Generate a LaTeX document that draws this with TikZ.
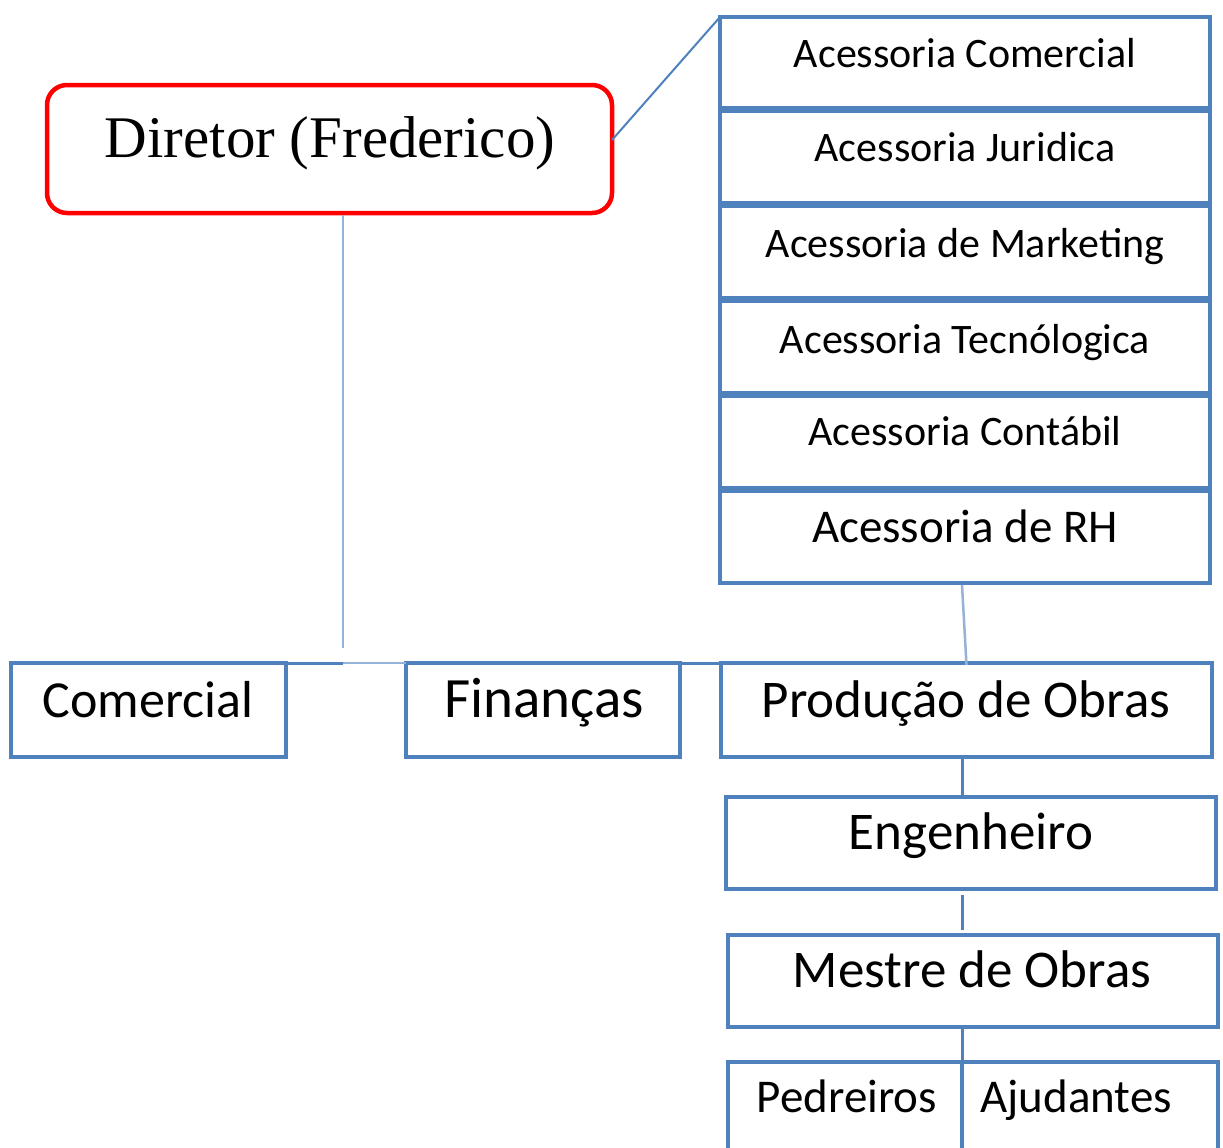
\documentclass[tikz,border=0pt]{standalone}
\usepackage{fontspec}
\setmainfont{Liberation Serif}
\newfontfamily\carl{Carlito}
\definecolor{obox}{HTML}{4F81BD}
\definecolor{olight}{HTML}{95B3D7}
\definecolor{ored}{HTML}{FF0000}
\begin{document}
\begin{tikzpicture}[x=1pt,y=-1pt,
  bbox/.style={draw=obox, line width=4pt, rectangle, inner sep=0pt, outer sep=0pt, fill=white},
  dirbox/.style={draw=ored, line width=4.5pt, rectangle, rounded corners=20pt, inner sep=0pt, outer sep=0pt},
  sm/.style={font=\carl\fontsize{42}{50}\selectfont, anchor=base, inner sep=0pt},
  md/.style={font=\carl\fontsize{47}{56}\selectfont, anchor=base, inner sep=0pt},
  lg/.style={font=\carl\fontsize{53}{63}\selectfont, anchor=base, inner sep=0pt},
  conn/.style={draw=obox, line width=3pt},
  connthin/.style={draw=obox, line width=2pt},
  connlight/.style={draw=olight, line width=2.5pt}]
\useasboundingbox (0,0) rectangle (1223,1148);
\clip (0,0) rectangle (1223,1148);
\fill[white] (0,0) rectangle (1223,1148);

% Diretor
\node[dirbox, minimum width=565pt, minimum height=128pt] (dir) at (329.5,149) {};
\node[font=\fontsize{59}{69}\selectfont, anchor=base, inner sep=0pt] (dirt) at (330,157) {Diretor (Frederico)};

% Acessorias
\node[bbox, minimum width=490pt, minimum height=91pt] (a1) at (965,62.5) {};
\node[bbox, minimum width=490pt, minimum height=92pt] (a2) at (965,157) {};
\node[bbox, minimum width=490pt, minimum height=92pt] (a3) at (965,252) {};
\node[bbox, minimum width=490pt, minimum height=92pt] (a4) at (965,347) {};
\node[bbox, minimum width=490pt, minimum height=92pt] (a5) at (965,442) {};
\node[bbox, minimum width=490pt, minimum height=92pt] (a6) at (965,537) {};
\node[sm] (a1t) at (965,67) {Acessoria Comercial};
\node[sm] (a2t) at (965,161) {Acessoria Juridica};
\node[sm] (a3t) at (965,257) {Acessoria de Marketing};
\node[sm] (a4t) at (965,353) {Acessoria Tecnólogica};
\node[sm] (a5t) at (965,445) {Acessoria Contábil};
\node[md] (a6t) at (965,542) {Acessoria de RH};

% Lower row
\node[bbox, minimum width=275pt, minimum height=94pt] (com) at (148.5,710) {};
\node[bbox, minimum width=274pt, minimum height=94pt] (fin) at (543,710) {};
\node[bbox, minimum width=491pt, minimum height=94pt] (prod) at (966.5,710) {};
\node[font=\carl\fontsize{52}{62}\selectfont, anchor=base, inner sep=0pt] (comt) at (148,717) {Comercial};
\node[font=\carl\fontsize{57}{68}\selectfont, anchor=base, inner sep=0pt] (fint) at (544,717) {Finanças};
\node[lg] (prodt) at (966,717) {Produção de Obras};

\node[bbox, minimum width=490pt, minimum height=92pt] (eng) at (971,843) {};
\node[lg] (engt) at (971,849) {Engenheiro};
\node[bbox, minimum width=490pt, minimum height=92pt] (mes) at (973,981) {};
\node[lg] (mest) at (972,987) {Mestre de Obras};
\node[bbox, minimum width=234pt, minimum height=108pt] (ped) at (845,1116) {};
\node[bbox, minimum width=256pt, minimum height=108pt] (aju) at (1090,1116) {};
\node[md] (pedt) at (847,1112) {Pedreiros};
\node[md] (ajut) at (1076,1112) {Ajudantes};

% Connectors
\coordinate (dj) at (343,648);
\draw[connthin] ([yshift=9pt]dir.east) -- (a1.north west);
\draw[connlight] ([xshift=13.5pt,yshift=-2pt]dir.south) -- (dj);
\draw[conn] (com.north east) -- (dj |- com.north);
\draw[connlight] (dj |- com.north) -- (fin.north west);
\draw[conn] (fin.north east) -- (prod.north west);
\draw[connlight] ([xshift=-3pt,yshift=-2pt]a6.south) -- ([yshift=-2pt]prod.north);
\draw[conn] (prod.south -| ped.east) -- (eng.north -| ped.east);
\draw[conn] ([yshift=-6pt]eng.south -| ped.east) -- ([yshift=5pt]mes.north -| ped.east);
\draw[conn] (mes.south -| ped.east) -- (ped.north east);
\end{tikzpicture}
\end{document}
